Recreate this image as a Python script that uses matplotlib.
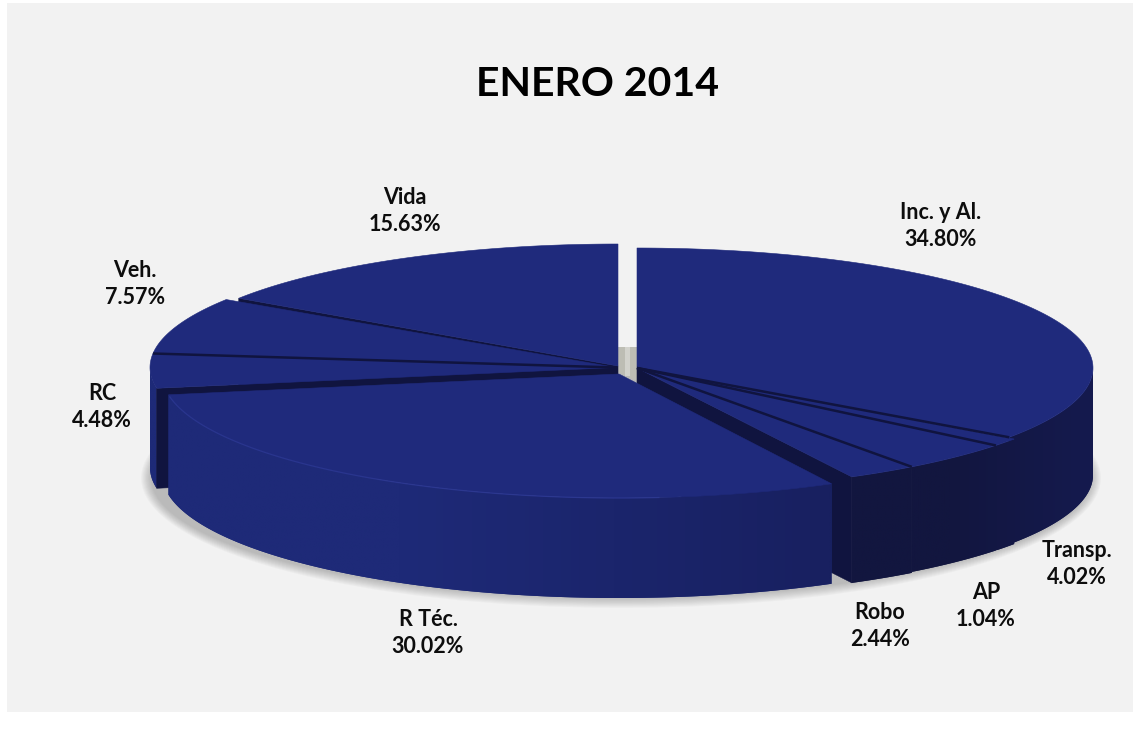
#!/usr/bin/env python3
"""ENERO 2014 - 3D looking exploded pie, drawn by hand on a pixel axes."""

import numpy as np
import matplotlib
matplotlib.use("Agg")
import matplotlib.pyplot as plt
from matplotlib.patches import Polygon, Rectangle, Ellipse
from matplotlib.colors import to_rgb

# data, in the order the slices run round the pie (clockwise from the top)
slice_names = ["Inc. y Al.", "AP", "Transp.", "Robo", "R Téc.", "RC", "Veh.", "Vida"]
slice_values = [34.80, 1.04, 4.02, 2.44, 30.02, 4.48, 7.57, 15.63]

# label anchor per slice (pixels)
label_pos = [(941, 226), (986, 606), (1077, 564), (880, 626),
             (428, 633), (102, 407), (135, 284), (405, 211)]

# geometry per slice: cx, cy, rx, ry, height
geometry = [
    (637, 368, 456, 120, 107),
    (637, 368, 462, 123, 105),
    (637, 368, 462, 123, 105),
    (637, 368, 462, 123, 106),
    (619, 374, 457, 124, 100),
    (616, 367.5, 466, 124, 100),
    (616, 367.5, 466, 124, 100),
    (618, 366, 456, 122, 100),
]

TOP = "#1f2a7c"
DARK = "#10143f"
BACKGROUND = "#f2f2f2"
SIDE_LIGHT = "#1e2a78"
SIDE_MID = "#182060"
SIDE_DARK = "#12163f"
SIDE_RIGHT = "#151a4e"

W, H = 1139, 740


def rim(g, t):
    t = np.radians(t)
    return g[0] + g[2] * np.sin(t), g[1] - g[3] * np.cos(t)


def top_face(ax, g, a1, a2, zorder):
    ts = np.linspace(a1, a2, 120)
    xs, ys = rim(g, ts)
    pts = [(g[0], g[1])] + list(zip(xs, ys))
    ax.add_patch(Polygon(pts, closed=True, fc=TOP, ec=TOP, lw=0.4, zorder=zorder))


def wall(ax, g, a, zorder):
    x, y = rim(g, a)
    pts = [(g[0], g[1]), (x, y), (x, y + g[4]), (g[0], g[1] + g[4])]
    ax.add_patch(Polygon(pts, closed=True, fc=DARK, ec=DARK, lw=0.4, zorder=zorder))


def side(ax, g, a1, a2, colours, zorder):
    # outer wall as one shape, shaded by a horizontal gradient image clipped to it
    a1 = max(a1, 90)
    a2 = min(a2, 270)
    if a2 <= a1:
        return
    ts = np.linspace(a1, a2, 200)
    xs, ys = rim(g, ts)
    pts = list(zip(xs, ys)) + list(zip(xs[::-1], ys[::-1] + g[4]))
    shape = Polygon(pts, closed=True, fc=colours(xs.mean()), ec="none", zorder=zorder)
    ax.add_patch(shape)
    x0, x1 = xs.min(), xs.max()
    grid = np.linspace(x0, x1, 128)
    img = np.array([[colours(x) for x in grid]])
    im = ax.imshow(img, extent=(x0, x1, ys.max() + g[4], ys.min()), aspect="auto",
                   interpolation="bilinear", zorder=zorder)
    im.set_clip_path(shape)


def mix(a, b, f):
    f = min(max(f, 0), 1)
    a, b = np.array(to_rgb(a)), np.array(to_rgb(b))
    return tuple(a + (b - a) * f)


def front_colour(x):
    # R Tec side, lighter on the left, darker towards the cut
    return mix(SIDE_LIGHT, SIDE_MID, (x - 400) / 430)


def right_colour(x):
    return mix(SIDE_DARK, SIDE_RIGHT, (x - 950) / 140)


def left_colour(x):
    return to_rgb(SIDE_LIGHT)


def divider(ax, g, a, lw, zorder):
    x, y = rim(g, a)
    ax.plot([g[0], x], [g[1], y], color=DARK, lw=lw, zorder=zorder,
            solid_capstyle="butt")


def main():
    plt.rcParams["font.family"] = ["Lato", "DejaVu Sans"]

    fig = plt.figure(figsize=(W / 100, H / 100), dpi=100, facecolor="white")
    ax = fig.add_axes([0, 0, 1, 1])
    ax.axis("off")

    ax.add_patch(Rectangle((7, 3), 1126, 709, fc=BACKGROUND, ec="none", zorder=0))

    # soft shadow under the pie
    for i in range(10):
        ax.add_patch(Ellipse((621, 478), 2 * 470 + 2.2 * i, 2 * 120 + 2.2 * i,
                             fc="#555555", ec="none", alpha=0.04, zorder=1))

    # angles from the values
    edges = np.concatenate([[0], np.cumsum(slice_values)]) / sum(slice_values) * 360

    # grey inner wall seen through the top gap
    ax.add_patch(Polygon([(618, 347), (637, 347), (637, 381), (618, 372)],
                         closed=True, fc="#bdbdb4", ec="none", zorder=2))
    ax.add_patch(Rectangle((625, 347), 5, 29, fc="#d2d2cc", ec="none", zorder=2))

    # back slices
    wall(ax, geometry[7], edges[7], 3)
    top_face(ax, geometry[7], edges[7], edges[8], 4)
    side(ax, geometry[5], edges[5], edges[6], left_colour, 5)
    wall(ax, geometry[5], edges[5], 6)
    top_face(ax, geometry[5], edges[5], edges[6], 7)
    top_face(ax, geometry[6], edges[6], edges[7] - 0.5, 7)
    divider(ax, geometry[6], edges[6], 1.8, 8)

    # right hand group
    wall(ax, geometry[3], edges[4], 9)
    for i in [0, 1, 2, 3]:
        side(ax, geometry[i], edges[i], edges[i + 1], right_colour, 10)
    for i in [0, 1, 2, 3]:
        top_face(ax, geometry[i], edges[i], edges[i + 1], 11)
    divider(ax, geometry[0], edges[1], 1.8, 12)
    divider(ax, geometry[1], edges[2], 1.8, 12)
    divider(ax, geometry[2], edges[3], 1.8, 12)

    # big front slice last
    side(ax, geometry[4], edges[4], edges[5], front_colour, 13)
    top_face(ax, geometry[4], edges[4], edges[5], 14)
    ts = np.linspace(175, edges[5] - 1, 80)
    xs, ys = rim(geometry[4], ts)
    ax.plot(xs, ys, color="#2f3b98", lw=0.9, alpha=0.7, zorder=15)

    # text
    ax.text(598, 85, "ENERO 2014", ha="center", va="center",
            fontsize=29.5, fontweight="bold", color="#000000", zorder=20)
    for name, value, (x, y) in zip(slice_names, slice_values, label_pos):
        ax.text(x, y, f"{name}\n{value:.2f}%", ha="center", va="center",
                fontsize=15.5, fontweight="bold", color="#0d0d0d",
                linespacing=1.3, zorder=20)

    # imshow resets the limits, so set them at the end
    ax.set_xlim(0, W)
    ax.set_ylim(H, 0)

    fig.savefig("out.png", dpi=100, facecolor="white")
    plt.close(fig)


if __name__ == "__main__":
    main()
